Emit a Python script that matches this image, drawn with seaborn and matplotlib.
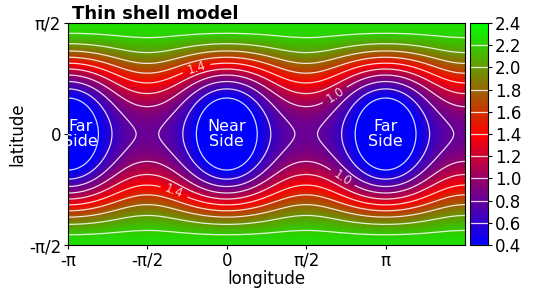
import numpy as np
import matplotlib
matplotlib.use('Agg')
import matplotlib.pyplot as plt
import seaborn as sns

# heating field, written as powers of u = cos^2(latitude)
# f = sum_k u^k * (m0[k] + m2[k]*cos(2 lon) + m4[k]*cos(4 lon))
coef_m0 = [2.27, -2.506, 0.735]
coef_m2 = [0.0, -0.835, 0.472]
coef_m4 = [0.0, 0.0, -0.042]

contour_levels = [0.4, 0.6, 0.8, 1.0, 1.2, 1.4, 1.6, 1.8, 2.0, 2.2]
cbar_ticks = [0.4, 0.6, 0.8, 1.0, 1.2, 1.4, 1.6, 1.8, 2.0, 2.2, 2.4]
labelled_levels = [1.0, 1.4]
label_spots = [(-0.59, 0.91), (-1.03, -0.79), (2.17, 0.52), (2.29, -0.62)]

side_names = ['Far\nSide', 'Near\nSide', 'Far\nSide']
side_lons = [-2.9, 0.0, np.pi]

xtick_pos = [-np.pi, -np.pi / 2, 0, np.pi / 2, np.pi]
xtick_lab = ['-\u03c0', '-\u03c0/2', '0', '\u03c0/2', '\u03c0']
ytick_pos = [-np.pi / 2, 0, np.pi / 2]
ytick_lab = ['-\u03c0/2', '0', '\u03c0/2']

sns.set_style('ticks', {'text.color': 'black', 'axes.labelcolor': 'black',
                        'xtick.color': 'black', 'ytick.color': 'black',
                        'axes.edgecolor': 'black'})
plt.rcParams['font.family'] = ['DejaVu Sans']

lon = np.linspace(-np.pi, 1.5 * np.pi, 600)
lat = np.linspace(-np.pi / 2, np.pi / 2, 300)
LON, LAT = np.meshgrid(lon, lat)
U = np.cos(LAT) ** 2
F = np.zeros_like(U)
for k in range(3):
    F += U ** k * (coef_m0[k] + coef_m2[k] * np.cos(2 * LON) + coef_m4[k] * np.cos(4 * LON))

cmap = sns.blend_palette(['blue', 'red', 'lime'], as_cmap=True)

fig = plt.figure(figsize=(5.38, 2.9), dpi=100)
ax = fig.add_axes([0.1264, 0.155, 0.7379, 0.7657])
cax = fig.add_axes([0.8736, 0.155, 0.0335, 0.7657])

mesh = ax.pcolormesh(LON, LAT, F, cmap=cmap, vmin=0.4, vmax=2.4, shading='gouraud')
plain_levels = [v for v in contour_levels if v not in labelled_levels]
line_kw = dict(colors='white', linewidths=0.9, alpha=0.85)
cs = ax.contour(LON, LAT, F, levels=plain_levels, **line_kw)
cs_lab = ax.contour(LON, LAT, F, levels=labelled_levels, **line_kw)
ax.clabel(cs_lab, manual=label_spots, fmt='%.1f', fontsize=8.5, inline=True)

for name, x in zip(side_names, side_lons):
    ax.text(x, 0, name, color='white', ha='center', va='center', fontsize=11.5,
            linespacing=1.0, clip_on=True)

ax.set_xlim(-np.pi, 1.5 * np.pi)
ax.set_ylim(-np.pi / 2, np.pi / 2)
ax.set_xticks(xtick_pos)
ax.set_xticklabels(xtick_lab, fontsize=12)
ax.set_yticks(ytick_pos)
ax.set_yticklabels(ytick_lab, fontsize=12)
ax.set_xlabel('longitude', fontsize=12, labelpad=0)
ax.set_ylabel('latitude', fontsize=12, labelpad=2)
ax.tick_params(length=3, pad=2)

fig.text(72 / 538, (290 - 23) / 290, 'Thin shell model', fontsize=13, fontweight='bold',
         ha='left', va='bottom')

cb = fig.colorbar(mesh, cax=cax, ticks=cbar_ticks)
cb.add_lines(cs)
cb.add_lines(cs_lab, erase=False)
cb.ax.tick_params(labelsize=12, length=3, pad=2)
cb.outline.set_linewidth(0.8)

fig.savefig('out.png', dpi=100)
